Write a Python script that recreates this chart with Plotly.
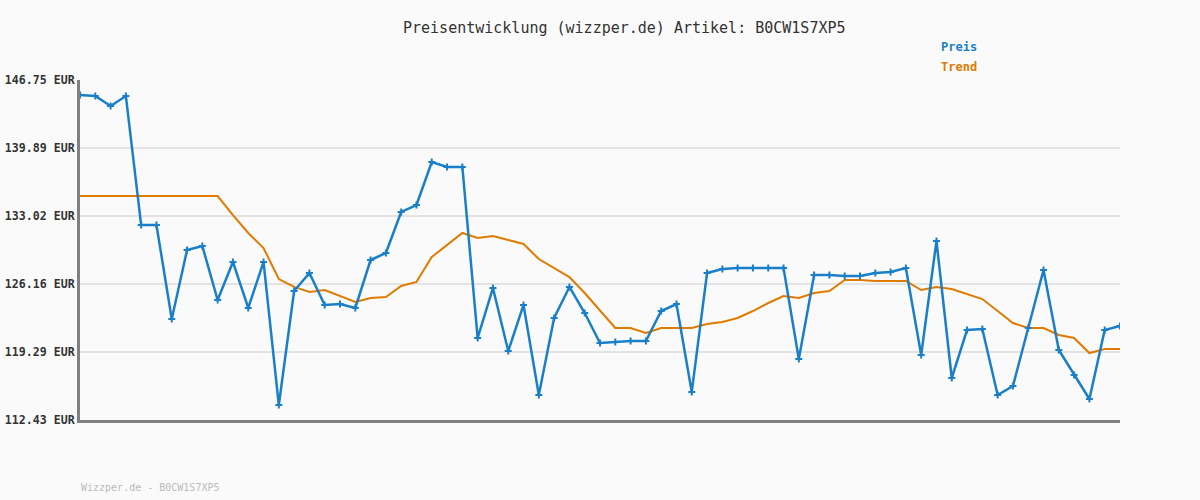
import plotly.graph_objects as go

title_text = "Preisentwicklung (wizzper.de) Artikel: B0CW1S7XP5"
footer_text = "Wizzper.de - B0CW1S7XP5"

preis = [145.24, 145.13, 144.13, 145.13, 132.11, 132.11, 122.63, 129.59, 129.99, 124.54,
         128.38, 123.74, 128.38, 113.94, 125.45, 127.27, 124.04, 124.14, 123.74, 128.58,
         129.29, 133.43, 134.13, 138.47, 137.97, 137.97, 120.71, 125.75, 119.39, 124.04,
         114.95, 122.73, 125.86, 123.23, 120.20, 120.30, 120.40, 120.40, 123.43, 124.14,
         115.26, 127.27, 127.67, 127.77, 127.77, 127.77, 127.77, 118.59, 127.07, 127.07,
         126.97, 126.97, 127.27, 127.37, 127.77, 118.99, 130.50, 116.67, 121.52, 121.62,
         114.95, 115.86, 121.72, 127.57, 119.50, 116.97, 114.55, 121.52, 121.92]

trend = [135.04, 135.04, 135.04, 135.04, 135.04, 135.04, 135.04, 135.04, 135.04, 135.04,
         133.12, 131.31, 129.79, 126.66, 125.86, 125.35, 125.55, 124.95, 124.34, 124.75,
         124.85, 125.96, 126.36, 128.88, 130.10, 131.31, 130.80, 131.00, 130.60, 130.20,
         128.68, 127.77, 126.86, 125.25, 123.53, 121.72, 121.72, 121.21, 121.72, 121.72,
         121.72, 122.12, 122.32, 122.73, 123.43, 124.24, 124.95, 124.75, 125.25, 125.45,
         126.56, 126.56, 126.46, 126.46, 126.46, 125.55, 125.86, 125.65, 125.15, 124.64,
         123.43, 122.22, 121.72, 121.72, 121.01, 120.71, 119.19, 119.60, 119.60]

y_ticks = [112.43, 119.29, 126.16, 133.02, 139.89, 146.75]
y_tick_labels = ["112.43 EUR", "119.29 EUR", "126.16 EUR", "133.02 EUR", "139.89 EUR", "146.75 EUR"]

idx = list(range(len(preis)))

BLUE = "#1a7fc9"
ORANGE = "#e07b00"
FONT = "DejaVu Sans Mono"

W, H, L, R, T, B = 1200, 500, 80, 80, 80, 80
pw, ph = W - L - R, H - T - B


def px2paper(px, py):
    return (px - L) / pw, (H - B - py) / ph


fig = go.Figure()
fig.add_trace(go.Scatter(x=idx, y=trend, mode="lines", name="Trend",
                         line=dict(color=ORANGE, width=2), hoverinfo="skip"))
fig.add_trace(go.Scatter(x=idx, y=preis, mode="lines+markers", name="Preis",
                         line=dict(color=BLUE, width=2.5),
                         marker=dict(symbol="cross-thin", size=5, line=dict(color=BLUE, width=2))))

ann = []
for text, (px, py), size, color in [
    ("<b>Preis</b>", (939, 47), 12, BLUE),
    ("<b>Trend</b>", (939, 67), 12, ORANGE),
    (footer_text, (79, 487), 10, "#bbbbbb"),
]:
    ax, ay = px2paper(px, py)
    ann.append(dict(text=text, x=ax, y=ay, xref="paper", yref="paper", showarrow=False,
                    font=dict(family=FONT, size=size, color=color),
                    xanchor="left", yanchor="middle"))
tx, ty = px2paper(624, 28)
ann.append(dict(text=title_text, x=tx, y=ty, xref="paper", yref="paper", showarrow=False,
                font=dict(family=FONT, size=15, color="#333333"),
                xanchor="center", yanchor="middle"))

fig.update_layout(
    width=W, height=H,
    margin=dict(l=L, r=R, t=T, b=B, autoexpand=False),
    paper_bgcolor="#fafafa", plot_bgcolor="#fafafa",
    showlegend=False,
    font=dict(family=FONT, color="#333333"),
    xaxis=dict(range=[0, len(preis) - 1], showgrid=False, zeroline=False, automargin=False,
               showticklabels=False, ticks="", showline=True, linecolor="#808080", linewidth=3),
    yaxis=dict(range=[y_ticks[0], y_ticks[-1]], tickvals=y_ticks, ticktext=y_tick_labels,
               showgrid=True, gridcolor="#e3e3e3", gridwidth=2, zeroline=False, automargin=False,
               showline=True, linecolor="#808080", linewidth=3, ticks="", ticklabelstandoff=0,
               tickfont=dict(family=FONT, size=11.6, color="#333333", weight="bold")),
    annotations=ann,
)

fig.write_html("out.html")
